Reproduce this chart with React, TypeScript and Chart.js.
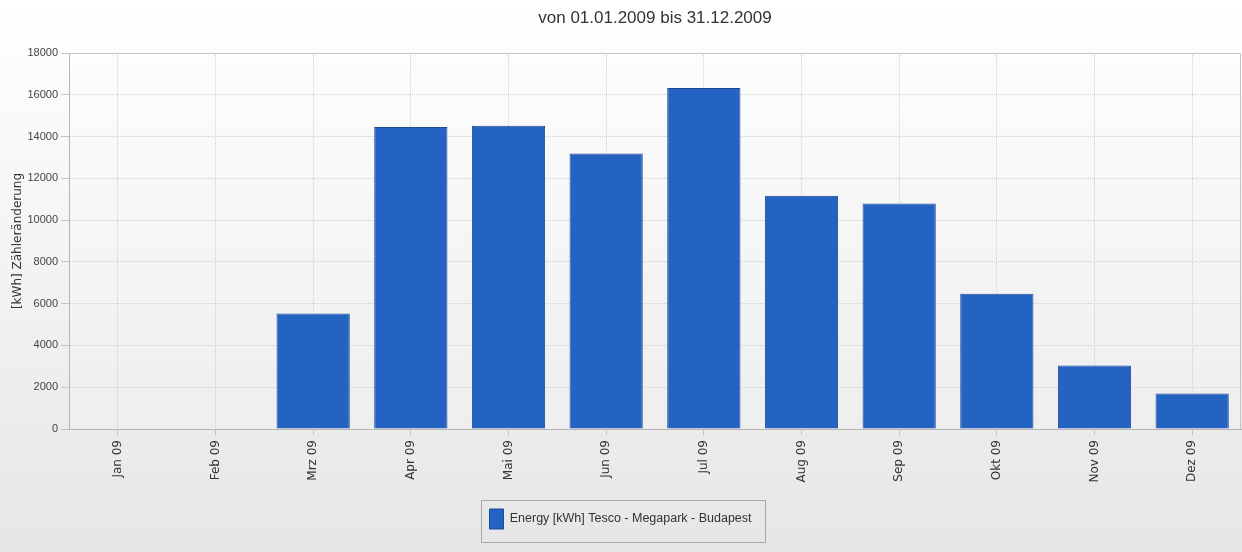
import React, { useEffect, useRef } from "react";
import { Chart, registerables } from "chart.js";

Chart.register(...registerables);

const categories = ["Jan 09", "Feb 09", "Mrz 09", "Apr 09", "Mai 09", "Jun 09", "Jul 09", "Aug 09", "Sep 09", "Okt 09", "Nov 09", "Dez 09"];
const energyValues = [0, 0, 5530, 14460, 14520, 13190, 16330, 11170, 10790, 6470, 3040, 1700];
const seriesLabel = "Energy [kWh] Tesco - Megapark - Budapest";
const chartTitle = "von 01.01.2009 bis 31.12.2009";
const yAxisTitle = "[kWh] Zähleränderung";
const yMin = 0;
const yMax = 18000;
const yStep = 2000;

const SANS = "'Liberation Sans', Arial, sans-serif";
const WIDE = "'DejaVu Sans', Verdana, sans-serif";

const backgroundPlugin = {
  id: "bgPlugin",
  beforeDraw(chart: any) {
    const { ctx, width, height, chartArea } = chart;
    ctx.save();
    const g = ctx.createLinearGradient(0, 0, 0, height);
    g.addColorStop(0, "#ffffff");
    g.addColorStop(1, "#e6e6e6");
    ctx.fillStyle = g;
    ctx.fillRect(0, 0, width, height);
    const g2 = ctx.createLinearGradient(0, chartArea.top, 0, chartArea.bottom);
    g2.addColorStop(0, "#fdfdfd");
    g2.addColorStop(1, "#eeeeee");
    ctx.fillStyle = g2;
    ctx.fillRect(chartArea.left, chartArea.top, chartArea.right - chartArea.left, chartArea.bottom - chartArea.top);
    ctx.restore();
  },
  afterDraw(chart: any) {
    const { ctx, chartArea } = chart;
    ctx.save();
    ctx.strokeStyle = "#c4c4c4";
    ctx.lineWidth = 1;
    ctx.beginPath();
    ctx.moveTo(chartArea.left, chartArea.top + 0.5);
    ctx.lineTo(chartArea.right - 0.5, chartArea.top + 0.5);
    ctx.lineTo(chartArea.right - 0.5, chartArea.bottom);
    ctx.stroke();
    ctx.fillStyle = "#333333";
    ctx.font = `17px ${SANS}`;
    ctx.textAlign = "center";
    ctx.textBaseline = "middle";
    ctx.fillText(chartTitle, (chartArea.left + chartArea.right) / 2, 18);
    const lg = chart.legend;
    if (lg && lg.legendHitBoxes && lg.legendHitBoxes.length) {
      const hb = lg.legendHitBoxes[0];
      ctx.strokeStyle = "#a8a8a8";
      ctx.lineWidth = 1;
      ctx.strokeRect(Math.round(hb.left - 8) + 0.5, Math.round(hb.top - 9) + 0.5, Math.round(hb.width + 22), 42);
    }
    ctx.restore();
  },
};

export default function App() {
  const canvasRef = useRef<HTMLCanvasElement | null>(null);

  useEffect(() => {
    document.body.style.margin = "0";
    const canvas = canvasRef.current;
    if (!canvas) return;
    const chart = new Chart(canvas, {
      type: "bar",
      data: {
        labels: categories,
        datasets: [
          {
            label: seriesLabel,
            data: energyValues,
            backgroundColor: "#2563c2",
            borderColor: "#1c4b96",
            borderWidth: 1,
            categoryPercentage: 1,
            barPercentage: 0.75,
          },
        ],
      },
      options: {
        animation: false,
        responsive: true,
        maintainAspectRatio: false,
        layout: { padding: { top: 53, left: 0, right: 1, bottom: 13 } },
        plugins: {
          title: { display: false },
          tooltip: { enabled: false },
          legend: {
            display: true,
            position: "bottom",
            labels: {
              boxWidth: 14,
              boxHeight: 20,
              padding: 10,
              color: "#333333",
              font: { family: SANS, size: 12.5 },
            },
          },
        },
        scales: {
          x: {
            grid: {
              offset: false,
              color: "#cfcfcf",
              tickColor: "#c4c4c4",
              tickLength: 6,
              tickBorderDash: [],
            },
            border: { display: true, color: "#b4b4b4", width: 1, dash: [1, 1] },
            ticks: {
              minRotation: 90,
              maxRotation: 90,
              autoSkip: false,
              padding: 5,
              color: "#333333",
              font: { family: WIDE, size: 12 },
            },
            afterFit(scale: any) {
              scale.height = 70;
            },
          },
          y: {
            min: yMin,
            max: yMax,
            grid: {
              color: "#cfcfcf",
              tickColor: "#c4c4c4",
              tickLength: 8,
              tickBorderDash: [],
            },
            border: { display: true, color: "#b4b4b4", width: 1, dash: [1, 1] },
            ticks: {
              stepSize: yStep,
              padding: 3,
              color: "#444444",
              font: { family: SANS, size: 11 },
              callback: (v: any) => String(v),
            },
            title: {
              display: true,
              text: yAxisTitle,
              color: "#333333",
              font: { family: WIDE, size: 12 },
              padding: { top: 11, bottom: 0 },
            },
            afterFit(scale: any) {
              scale.width = 69;
            },
          },
        },
      },
      plugins: [backgroundPlugin],
    } as any);
    return () => chart.destroy();
  }, []);

  return (
    <div style={{ position: "relative", width: "1242px", height: "552px" }}>
      <canvas ref={canvasRef} />
    </div>
  );
}
